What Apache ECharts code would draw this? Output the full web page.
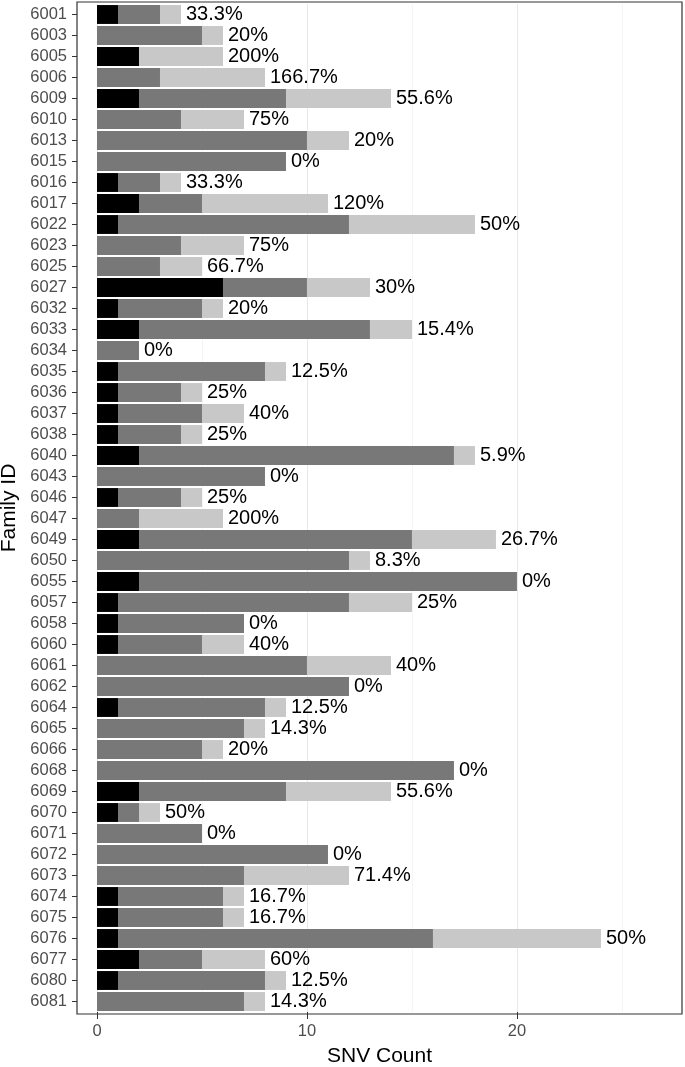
<!DOCTYPE html>
<html>
<head>
<meta charset="utf-8">
<title>SNV Count by Family</title>
<script src="https://cdn.jsdelivr.net/npm/echarts@6/dist/echarts.min.js"></script>
<style>
  html, body { margin: 0; padding: 0; background: #fff; }
  #chart { width: 685px; height: 1067px; }
</style>
</head>
<body>
<div id="chart"></div>
<script>
// family ids, top to bottom
const families = ['6001','6003','6005','6006','6009','6010','6013','6015','6016','6017',
  '6022','6023','6025','6027','6032','6033','6034','6035','6036','6037','6038','6040',
  '6043','6046','6047','6049','6050','6055','6057','6058','6060','6061','6062','6064',
  '6065','6066','6068','6069','6070','6071','6072','6073','6074','6075','6076','6077',
  '6080','6081'];

// segment counts (black / dark grey / light grey)
const blackCounts = [1,0,2,0,2,0,0,0,1,2, 1,0,0,6,1,2,0,1,1,1,1,2, 0,1,0,2,0,2,1,1,1,0,0,1, 0,0,0,2,1,0,0,0,1,1,1,2, 1,0];
const darkCounts  = [2,5,0,3,7,4,10,9,2,3, 11,4,3,4,4,11,2,7,3,4,3,15, 8,3,2,13,12,18,11,6,4,10,12,7, 7,5,17,7,1,5,11,7,5,5,15,3, 7,7];
const lightCounts = [1,1,4,5,5,3,2,0,1,6, 6,3,2,3,1,2,0,1,1,2,1,1, 0,1,4,4,1,0,3,0,2,4,0,1, 1,1,0,5,1,0,0,5,1,1,8,3, 1,1];

// labels printed at bar ends
const pctLabels = ['33.3%','20%','200%','166.7%','55.6%','75%','20%','0%','33.3%','120%',
  '50%','75%','66.7%','30%','20%','15.4%','0%','12.5%','25%','40%','25%','5.9%',
  '0%','25%','200%','26.7%','8.3%','0%','25%','0%','40%','40%','0%','12.5%',
  '14.3%','20%','0%','55.6%','50%','0%','0%','71.4%','16.7%','16.7%','50%','60%',
  '12.5%','14.3%'];

const xTicks = [0, 10, 20];

const font = 'Liberation Sans, Arial, Helvetica, sans-serif';
const chart = echarts.init(document.getElementById('chart'));

const option = {
  animation: false,
  textStyle: { fontFamily: font },
  grid: [
    // 0: panel border
    { left: 77, right: 3, top: 2, bottom: 53, show: true, borderColor: '#333', borderWidth: 1.2,
      backgroundColor: 'transparent', outerBoundsMode: 'none' },
    // 1: y labels + axis titles, same rows as the plot
    { left: 77, right: 3, top: 4, bottom: 55, outerBoundsMode: 'none' },
    // 2: plotting area (0 sits a bit inside the border, like ggplot expansion)
    { left: 97, right: 3, top: 4, bottom: 55, outerBoundsMode: 'none' }
  ],
  xAxis: [
    { gridIndex: 0, type: 'value', show: false },
    {
      gridIndex: 1, type: 'value', show: true,
      name: 'SNV Count', nameLocation: 'middle', nameGap: 34,
      nameTextStyle: { fontSize: 21, color: '#000' },
      axisLine: { show: false }, axisTick: { show: false },
      axisLabel: { show: false }, splitLine: { show: false }
    },
    {
      gridIndex: 2, type: 'value', min: 0, max: 27.86, interval: 10,
      axisLine: { show: false },
      axisTick: { show: true, length: 7, customValues: xTicks, lineStyle: { color: '#333', width: 1 } },
      axisLabel: { fontSize: 16.5, color: '#4d4d4d', margin: 11, customValues: xTicks },
      splitLine: { show: true, lineStyle: { color: '#e8e8e8', width: 1 } },
      minorTick: { show: false, splitNumber: 2 },
      minorSplitLine: { show: true, lineStyle: { color: '#f1f1f1', width: 0.7 } }
    }
  ],
  yAxis: [
    { gridIndex: 0, type: 'value', show: false },
    {
      gridIndex: 1, type: 'category', data: families, inverse: true,
      name: 'Family ID', nameLocation: 'middle', nameGap: 56, nameRotate: 90,
      nameTextStyle: { fontSize: 21, color: '#000' },
      axisLine: { show: false },
      axisTick: { show: true, alignWithLabel: true, length: 5, lineStyle: { color: '#333', width: 1 } },
      axisLabel: { fontSize: 16.5, color: '#4d4d4d', margin: 10, interval: 0 }
    },
    { gridIndex: 2, type: 'category', data: families, inverse: true, show: false }
  ],
  series: [
    {
      name: 'black', type: 'bar', stack: 'snv', xAxisIndex: 2, yAxisIndex: 2,
      barWidth: '90%', data: blackCounts, itemStyle: { color: '#000000' }
    },
    {
      name: 'dark', type: 'bar', stack: 'snv', xAxisIndex: 2, yAxisIndex: 2,
      barWidth: '90%', data: darkCounts, itemStyle: { color: '#787878' }
    },
    {
      name: 'light', type: 'bar', stack: 'snv', xAxisIndex: 2, yAxisIndex: 2,
      barWidth: '90%', data: lightCounts, itemStyle: { color: '#c8c8c8' },
      label: {
        show: true, position: 'right', distance: 5,
        fontSize: 20, color: '#000',
        formatter: p => pctLabels[p.dataIndex]
      }
    }
  ]
};

chart.setOption(option);
</script>
</body>
</html>
